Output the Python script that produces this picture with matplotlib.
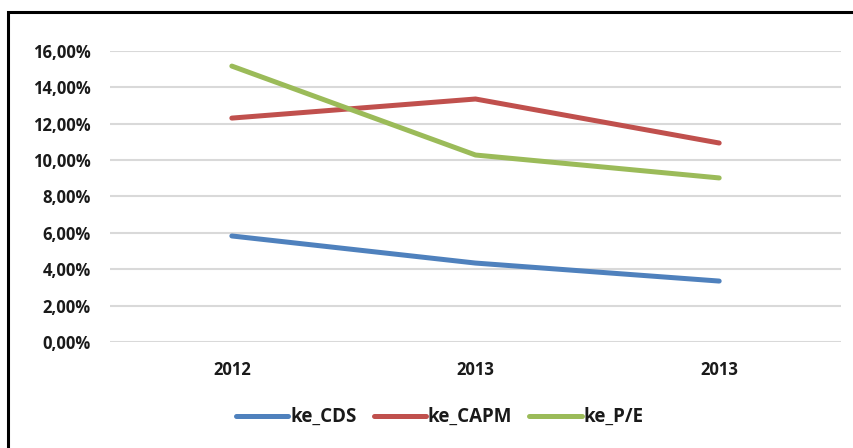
import matplotlib.pyplot as plt
from matplotlib.patches import Rectangle
from matplotlib.ticker import FuncFormatter

years = ['2012', '2013', '2013']
ke_cds = [5.83, 4.34, 3.35]
ke_capm = [12.31, 13.36, 10.94]
ke_pe = [15.17, 10.28, 9.02]

plt.rcParams['font.family'] = ['Open Sans', 'DejaVu Sans']

fig = plt.figure(figsize=(8.54, 4.48), dpi=100)
ax = fig.add_axes([0.1288, 0.2366, 0.8560, 0.6496])

x = range(len(years))
ax.plot(x, ke_cds, color='#4F81BD', lw=3.6, solid_capstyle='round', label='ke_CDS')
ax.plot(x, ke_capm, color='#C0504D', lw=3.6, solid_capstyle='round', label='ke_CAPM')
ax.plot(x, ke_pe, color='#9BBB59', lw=3.6, solid_capstyle='round', label='ke_P/E')

ax.set_xlim(-0.5, 2.5)
ax.set_ylim(0, 16)
ax.set_yticks(range(0, 17, 2))
ax.yaxis.set_major_formatter(FuncFormatter(lambda v, p: f'{v:.2f}'.replace('.', ',') + '%'))
ax.set_xticks(list(x))
ax.set_xticklabels(years)
ax.grid(axis='y', color='#D9D9D9', lw=1.5)
ax.set_axisbelow(True)
for s in ax.spines.values():
    s.set_visible(False)
ax.tick_params(length=0, labelsize=12)
ax.tick_params(axis='y', pad=14)
ax.tick_params(axis='x', pad=14)
for t in ax.get_xticklabels() + ax.get_yticklabels():
    t.set_fontweight('bold')
    t.set_color('#1a1a1a')

leg = fig.legend(loc='center', bbox_to_anchor=(0.515, 0.069), ncol=3, frameon=False,
                 handlelength=2.8, handletextpad=0.1, columnspacing=0.9,
                 prop={'weight': 'bold', 'size': 13.5})
for t in leg.get_texts():
    t.set_color('#1a1a1a')

fig.patches.append(Rectangle((0.0095, -0.1), 1.2, 0.1 + 0.9727, transform=fig.transFigure,
                             fill=False, edgecolor='black', lw=2.2))

fig.savefig('out.png', dpi=100)
